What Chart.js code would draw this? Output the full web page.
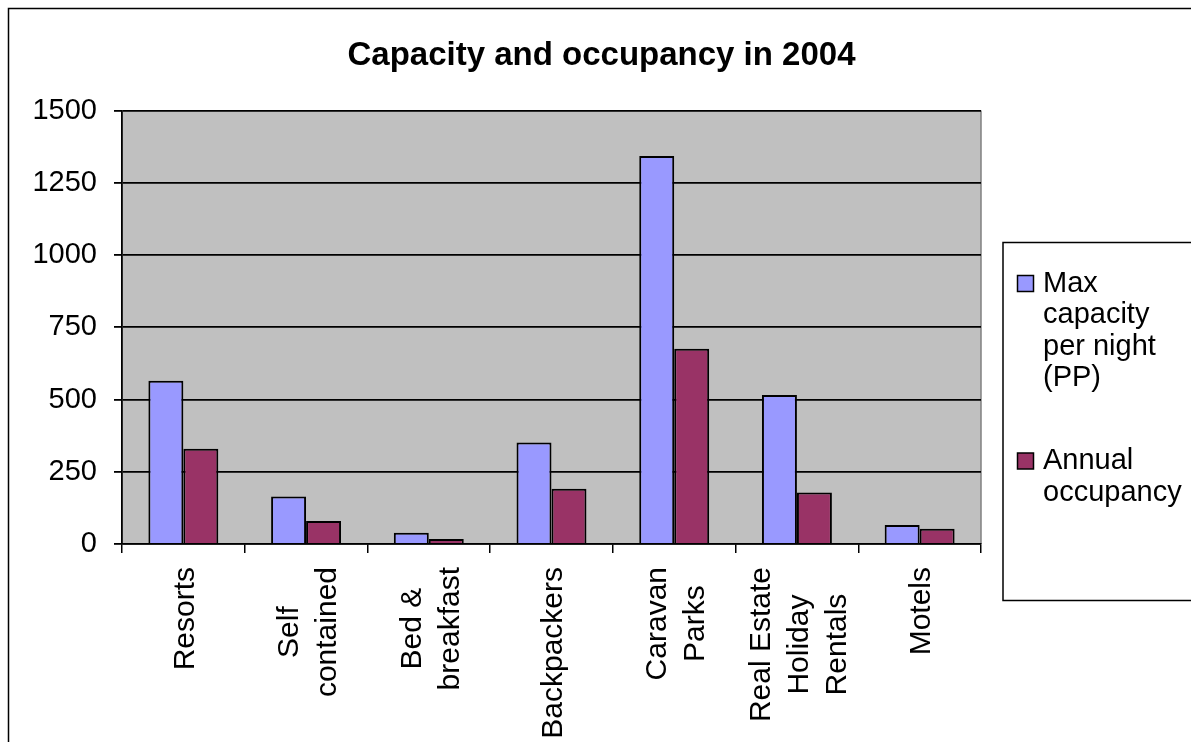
<!DOCTYPE html>
<html>
<head>
<meta charset="utf-8">
<script src="https://cdn.jsdelivr.net/npm/chart.js@4.4.1/dist/chart.umd.min.js"></script>
<style>
  html, body { margin: 0; padding: 0; background: #fff; }
  canvas { display: block; }
</style>
</head>
<body>
<canvas id="c" width="1191" height="742"></canvas>
<script>
// Accommodation categories (one entry per line of the axis label)
const categories = [
  ['Resorts'],
  ['Self', 'contained'],
  ['Bed &', 'breakfast'],
  ['Backpackers'],
  ['Caravan', 'Parks'],
  ['Real Estate', 'Holiday', 'Rentals'],
  ['Motels']
];
const maxCapacity     = [565, 164, 39, 351, 1343, 516, 66];
const annualOccupancy = [330,  80, 17, 191,  676, 178, 53];
const yTicks = [0, 250, 500, 750, 1000, 1250, 1500];
const seriesNames  = ['Max capacity per night (PP)', 'Annual occupancy'];
const seriesColors = ['#9999FF', '#993366'];
const chartTitle = 'Capacity and occupancy in 2004';

const FONT = '"Liberation Sans", Arial, sans-serif';
Chart.defaults.font.family = FONT;
Chart.defaults.color = '#000';

function wrapWords(ctx, text, maxWidth) {
  const words = text.split(' ');
  const lines = [];
  let cur = '';
  for (const w of words) {
    const test = cur ? cur + ' ' + w : w;
    if (cur && ctx.measureText(test).width > maxWidth) {
      lines.push(cur);
      cur = w;
    } else {
      cur = test;
    }
  }
  if (cur) lines.push(cur);
  return lines;
}

// Page frame, grey plot background, rotated category labels and the side legend
const decorations = {
  id: 'decorations',
  beforeDraw(chart) {
    const { ctx, chartArea: a } = chart;
    ctx.save();
    ctx.fillStyle = '#fff';
    ctx.fillRect(0, 0, chart.width, chart.height);
    ctx.fillStyle = '#C0C0C0';
    ctx.fillRect(a.left, a.top, a.right - a.left, a.bottom - a.top);
    ctx.strokeStyle = '#808080';
    ctx.lineWidth = 1.5;
    ctx.beginPath();
    ctx.moveTo(a.right, a.top);
    ctx.lineTo(a.right, a.bottom);
    ctx.stroke();
    ctx.strokeStyle = '#000';
    ctx.lineWidth = 1.5;
    ctx.strokeRect(8.5, 8.5, chart.width + 20, chart.height + 20);
    ctx.restore();
  },
  afterDraw(chart) {
    const { ctx, chartArea: a } = chart;
    const xs = chart.scales.x;

    // category labels, rotated, each line centred on the block
    const fs = 30, pitch = 38;
    ctx.save();
    ctx.font = fs + 'px ' + FONT;
    ctx.fillStyle = '#000';
    ctx.textAlign = 'center';
    ctx.textBaseline = 'alphabetic';
    chart.data.labels.forEach((lines, i) => {
      const cx = xs.getPixelForValue(i);
      const maxW = Math.max(...lines.map(l => ctx.measureText(l).width));
      const cy = xs.top + 23 + maxW / 2;
      lines.forEach((line, j) => {
        const capCenter = cx + (j - (lines.length - 1) / 2) * pitch;
        ctx.save();
        ctx.translate(capCenter + 0.358 * fs, cy);
        ctx.rotate(-Math.PI / 2);
        ctx.fillText(line, 0, 0);
        ctx.restore();
      });
    });
    ctx.restore();

    // legend box
    const lx = a.right + 22, ly = 242.5;
    ctx.save();
    ctx.fillStyle = '#fff';
    ctx.strokeStyle = '#000';
    ctx.lineWidth = 1.5;
    ctx.fillRect(lx, ly, 300, 358);
    ctx.strokeRect(lx, ly, 300, 358);
    ctx.font = '29px ' + FONT;
    ctx.textAlign = 'left';
    ctx.textBaseline = 'alphabetic';
    let baseline = ly + 49;
    chart.data.datasets.forEach((ds) => {
      const lines = wrapWords(ctx, ds.label, 152);
      ctx.fillStyle = ds.backgroundColor;
      ctx.fillRect(lx + 14.5, baseline - 16, 16, 16);
      ctx.strokeStyle = '#000';
      ctx.lineWidth = 1.5;
      ctx.strokeRect(lx + 14.5, baseline - 16, 16, 16);
      ctx.fillStyle = '#000';
      lines.forEach((line, k) => {
        ctx.fillText(line, lx + 40, baseline + k * 31.5);
      });
      baseline += (lines.length - 1) * 31.5 + 83;
    });
    ctx.restore();
  }
};

new Chart(document.getElementById('c'), {
  type: 'bar',
  data: {
    labels: categories,
    datasets: [
      { label: seriesNames[0], data: maxCapacity, backgroundColor: seriesColors[0],
        borderColor: '#000', borderWidth: 2 },
      { label: seriesNames[1], data: annualOccupancy, backgroundColor: seriesColors[1],
        borderColor: '#000', borderWidth: 2 }
    ]
  },
  options: {
    responsive: false,
    animation: false,
    layout: { padding: { left: 12, top: 0, right: 0, bottom: 0 } },
    datasets: { bar: { categoryPercentage: 0.57, barPercentage: 1.0 } },
    plugins: {
      legend: { display: false },
      tooltip: { enabled: false },
      title: {
        display: true,
        text: chartTitle,
        color: '#000',
        font: { size: 33, weight: 'bold' },
        padding: { top: 36, bottom: 35 }
      }
    },
    scales: {
      x: {
        afterFit: s => { s.height = 198; },
        ticks: { display: false },
        grid: { offset: true, drawOnChartArea: false, color: '#000', lineWidth: 1.5, tickLength: 9 },
        border: { color: '#000', width: 1.5 }
      },
      y: {
        min: 0,
        max: 1500,
        afterBuildTicks: s => { s.ticks = yTicks.map(v => ({ value: v })); },
        afterFit: s => { s.width = 110; },
        ticks: { font: { size: 29 }, color: '#000', padding: 17, callback: v => String(v) },
        grid: { color: '#000', lineWidth: 1.8, tickLength: 8 },
        border: { color: '#000', width: 1.8 }
      },
      yPad: {
        type: 'linear',
        position: 'right',
        afterFit: s => { s.width = 210; },
        grid: { display: false },
        ticks: { display: false },
        border: { display: false }
      }
    }
  },
  plugins: [decorations]
});
</script>
</body>
</html>
